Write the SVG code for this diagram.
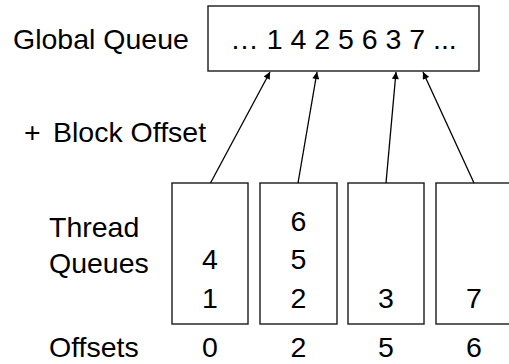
<svg xmlns="http://www.w3.org/2000/svg" width="509" height="364" viewBox="0 0 509 364">
<style>
text{font-family:"Liberation Sans",Arial,sans-serif;font-size:28.5px;fill:#000}
.c{text-anchor:middle}
.box{fill:#fff;stroke:#1a1a1a;stroke-width:1.4}
.conn{stroke:#000;stroke-width:1.3;fill:none;marker-end:url(#ah)}
</style>
<defs>
<marker id="ah" viewBox="0 0 10 10" refX="10" refY="5" markerWidth="10" markerHeight="7" markerUnits="userSpaceOnUse" orient="auto">
<path d="M0,0 L10,5 L0,10 z" fill="#000"/>
</marker>
</defs>
<g id="labels">
<text x="13" y="49">Global Queue</text>
<text x="24" y="142">+<tspan x="53">Block Offset</tspan></text>
<text x="49" y="237">Thread</text>
<text x="49" y="273">Queues</text>
<text x="49" y="357">Offsets</text>
</g>
<g id="global-queue">
<rect class="box" x="208" y="6" width="271" height="65"/>
<text class="c" x="343.5" y="49">… 1 4 2 5 6 3 7 ...</text>
</g>
<g id="thread-queue-0">
<rect class="box" x="172" y="183" width="76" height="141"/>
<text class="c" x="210" y="269">4</text>
<text class="c" x="210" y="308">1</text>
<text class="c" x="210" y="357">0</text>
</g>
<g id="thread-queue-1">
<rect class="box" x="260" y="183" width="77" height="141"/>
<text class="c" x="298.5" y="231">6</text>
<text class="c" x="298.5" y="269">5</text>
<text class="c" x="298.5" y="308">2</text>
<text class="c" x="298.5" y="357">2</text>
</g>
<g id="thread-queue-2">
<rect class="box" x="348" y="183" width="76" height="141"/>
<text class="c" x="386" y="308">3</text>
<text class="c" x="386" y="357">5</text>
</g>
<g id="thread-queue-3">
<rect class="box" x="436" y="183" width="77" height="141"/>
<text class="c" x="474" y="308">7</text>
<text class="c" x="474" y="357">6</text>
</g>
<g id="connectors">
<line class="conn" x1="210.5" y1="183" x2="270" y2="72"/>
<line class="conn" x1="298" y1="183" x2="317" y2="72"/>
<line class="conn" x1="386" y1="183" x2="396" y2="72"/>
<line class="conn" x1="474" y1="183" x2="423" y2="72"/>
</g>
</svg>
